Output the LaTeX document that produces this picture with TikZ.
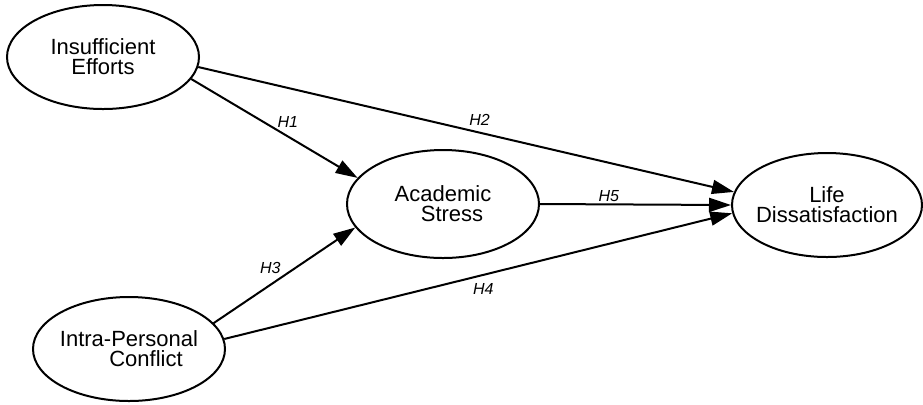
\documentclass[tikz,border=0pt]{standalone}
\usepackage{fontspec}
\setmainfont{Liberation Sans}
\usetikzlibrary{arrows.meta,shapes.geometric,positioning}

\begin{document}
\begin{tikzpicture}[x=0.5pt,y=-0.5pt,>={Triangle[length=11pt,width=7pt]},line width=1pt,
  var/.style={ellipse,draw,minimum width=96pt,minimum height=52pt,inner sep=0pt},
  varname/.style={align=center,font=\fontsize{11}{10}\selectfont},
  hyp/.style={font=\fontsize{8}{9}\selectfont\itshape,inner sep=1pt}]
\useasboundingbox (0,0) rectangle (923,404);

\node (ie) [var,label={[varname]center:Insufficient\\Efforts}] at (103,57) {};
\node (as) [var,minimum height=54pt,label={[varname]center:Academic\\\hspace*{9pt}Stress}] at (443,204) {};
\node (ld) [var,minimum width=95pt,label={[varname]center:Life\\Dissatisfaction}] at (827,205) {};
\node (ipc) [var,label={[varname]center:Intra-Personal\\\hspace*{17pt}Conflict}] at (129,349) {};

\draw[->] (ie.-14) -- node[hyp,pos=0.58,above=3pt] {H1} (as.163);
\draw[->] (ie.-6) -- node[hyp,pos=0.525,above=2pt] {H2} (ld.172);
\draw[->] (ipc.17) -- node[hyp,pos=0.4,above=4pt] {H3} (as.195);
\draw[->] (ipc.6) -- node[hyp,pos=0.51,below=3pt] {H4} (ld.185);
\draw[->] (as.0) -- node[hyp,pos=0.36,above=0pt] {H5} (ld.180);
\end{tikzpicture}
\end{document}
